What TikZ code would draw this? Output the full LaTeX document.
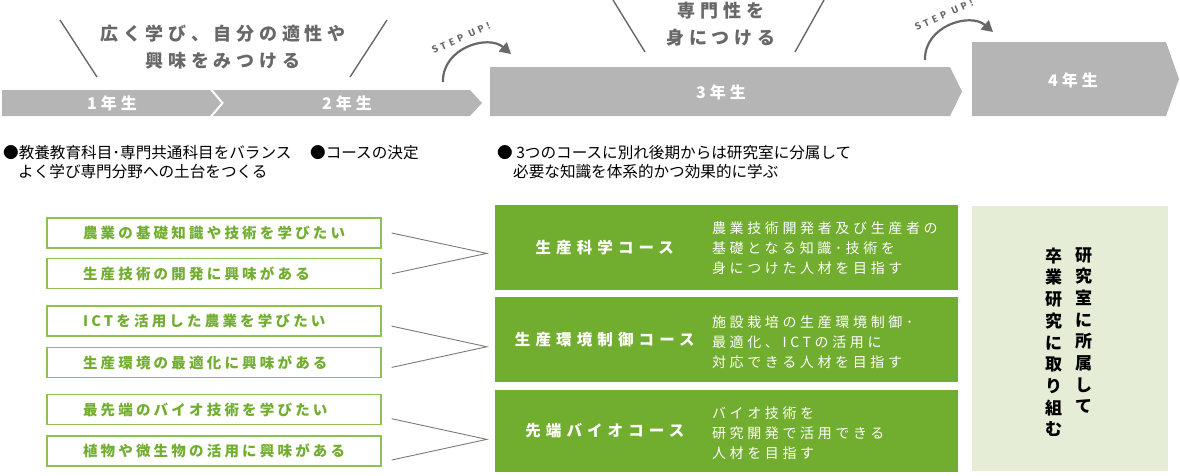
\documentclass[tikz,border=0pt]{standalone}
\usepackage{fontspec}
\usepackage{tikz}
\usetikzlibrary{calc, positioning, arrows.meta}

\setmainfont{Noto Sans CJK JP}
\newfontfamily\gradefont{Noto Sans CJK JP}[LetterSpace=25]
\newfontfamily\catchfont{Noto Sans CJK JP}[LetterSpace=26]
\newfontfamily\coursefont{Noto Sans CJK JP}[LetterSpace=33]
\newfontfamily\wantfont{Noto Sans CJK JP}[LetterSpace=22]
\newfontfamily\descfont{Noto Sans CJK JP}[LetterSpace=26]
\newfontfamily\stepfont{Fira Sans}[LetterSpace=38]

\definecolor{bargray}{HTML}{B4B5B4}
\definecolor{inkgray}{HTML}{686868}
\definecolor{linkgray}{HTML}{7A7A7A}
\definecolor{leaf}{HTML}{71AD2E}
\definecolor{leaflight}{HTML}{8DC153}
\definecolor{pale}{HTML}{E6EDD7}

\begin{document}
\begin{tikzpicture}[x=1pt, y=-1pt,
    grade/.style={text=white, font=\gradefont\bfseries\fontsize{16}{18}\selectfont},
    catch/.style={text=inkgray, align=center, font=\catchfont\bfseries\fontsize{18}{27}\selectfont},
    slash/.style={draw=inkgray, line width=1.4pt},
    stepup/.style={draw=inkgray, line width=2.2pt, -{Triangle[length=11pt,width=12pt]}},
    steptext/.style={text=inkgray, inner sep=0pt, rotate=24, font=\stepfont\bfseries\fontsize{10}{10}\selectfont},
    note/.style={anchor=west, align=left, inner sep=0pt, font=\fontsize{15.6}{19}\selectfont},
    want/.style={draw=leaflight, line width=1.3pt, minimum width=334pt, minimum height=30pt,
        text width=262pt, inner xsep=36pt, inner ysep=0pt, align=left, text=leaf,
        font=\wantfont\bfseries\fontsize{14.5}{16}\selectfont},
    course/.style={fill=leaf, minimum width=463pt, minimum height=85pt, inner sep=0pt},
    coursename/.style={text=white, font=\coursefont\bfseries\fontsize{15.5}{18}\selectfont},
    coursenote/.style={anchor=west, align=left, inner sep=0pt, text=white,
        font=\descfont\fontsize{14}{20}\selectfont},
    link/.style={draw=linkgray, line width=0.9pt},
    vert/.style={anchor=north, align=center, inner sep=0pt, font=\bfseries\fontsize{17}{21.7}\selectfont}
]
\useasboundingbox (0,0) rectangle (1180,475);

% year bars
\fill[bargray] (2,90) -- (210,90) -- (221,103) -- (210,116) -- (2,116) -- cycle;
\fill[bargray] (213,90) -- (470,90) -- (482,103) -- (470,116) -- (213,116) -- (224,103) -- cycle;
\fill[bargray] (490,67) -- (950,67) -- (962,91.5) -- (950,116) -- (490,116) -- cycle;
\fill[bargray] (972,42) -- (1166,42) -- (1179,79) -- (1166,116) -- (972,116) -- cycle;
\node[grade] (year1) at (112,103) {1年生};
\node[grade] (year2) at (347,103) {2年生};
\node[grade] (year3) at (721,92) {3年生};
\node[grade] (year4) at (1073,80) {4年生};

% catch phrases
\node[catch] (catch1) at (223,47) {広く学び、自分の適性や\\興味をみつける};
\draw[slash] (60,20) -- (97,77);
\draw[slash] (387,20) -- (350,77);
\node[catch] (catch2) at (721,24) {専門性を\\身につける};
\draw[slash] (613,0) -- (645,52);
\draw[slash] (824,0) -- (795,52);

% step up
\coordinate (up1) at (443,82);
\coordinate (land1) at (511,54);
\draw[stepup] (up1) .. controls (442,48) and (488,34) .. (land1);
\node[steptext] (step1) at (461,38) {STEP UP!};
\coordinate (up2) at (925,60);
\coordinate (land2) at (993,32);
\draw[stepup] (up2) .. controls (924,26) and (970,12) .. (land2);
\node[steptext] (step2) at (944,15) {STEP UP!};

% notes
\node[note] (note1) at (3,162.5) {●教養教育科目･専門共通科目をバランス\\\hspace*{15pt}よく学び専門分野への土台をつくる};
\node[note] (note2) at (310,153) {●コースの決定};
\node[note] (note3) at (497,162.5) {● 3つのコースに別れ後期からは研究室に分属して\\\hspace*{16pt}必要な知識を体系的かつ効果的に学ぶ};

% interests
\node[want] (want1) at (214,233) {農業の基礎知識や技術を学びたい};
\node[want] (want2) [below=9.5pt of want1] {生産技術の開発に興味がある};
\node[want] (want3) [below=16pt of want2] {ICTを活用した農業を学びたい};
\node[want] (want4) [below=10pt of want3] {生産環境の最適化に興味がある};
\node[want] (want5) [below=16pt of want4] {最先端のバイオ技術を学びたい};
\node[want] (want6) [below=10pt of want5] {植物や微生物の活用に興味がある};

% courses
\node[course] (course1) at (726.5,247.5) {};
\node[course] (course2) [below=7pt of course1] {};
\node[course, minimum height=82pt] (course3) [below=7pt of course2] {};
\node[coursename] (name1) at ($(course1.west)+(110,0)$) {生産科学コース};
\node[coursename] (name2) at ($(course2.west)+(110,0)$) {生産環境制御コース};
\node[coursename] (name3) at ($(course3.west)+(110,0)$) {先端バイオコース};
\node[coursenote] (aim1) at ($(course1.west)+(217,1)$) {農業技術開発者及び生産者の\\基礎となる知識･技術を\\身につけた人材を目指す};
\node[coursenote] (aim2) at ($(course2.west)+(217,2)$) {施設栽培の生産環境制御･\\最適化、ICTの活用に\\対応できる人材を目指す};
\node[coursenote] (aim3) at ($(course3.west)+(217,2)$) {バイオ技術を\\研究開発で活用できる\\人材を目指す};

% links
\coordinate (s1) at ($(want1.east)+(10,0)$);
\coordinate (e1) at ($(want2.east)+(10,0)$);
\coordinate (s2) at ($(want3.east)+(10,5)$);
\coordinate (e2) at ($(want4.east)+(10,5)$);
\coordinate (s3) at ($(want5.east)+(10,9)$);
\coordinate (e3) at ($(want6.east)+(10,9)$);
\foreach \i in {1,2,3}{
    \coordinate (mid\i) at ($(s\i)!.5!(e\i)$);
    \coordinate (tip\i) at ($(course\i.west |- mid\i)+(-8,0)$);
    \draw[link] (s\i) -- (tip\i) -- (e\i);
}

% lab
\node[fill=pale, minimum width=196pt, minimum height=265pt, inner sep=0pt] (lab) at (1070,338.5) {};
\node[vert] (labA) at (1083.5,247) {研\\究\\室\\に\\所\\属\\し\\て};
\node[vert] (labB) at (1053.5,247.5) {卒\\業\\研\\究\\に\\取\\り\\組\\む};
\end{tikzpicture}
\end{document}
